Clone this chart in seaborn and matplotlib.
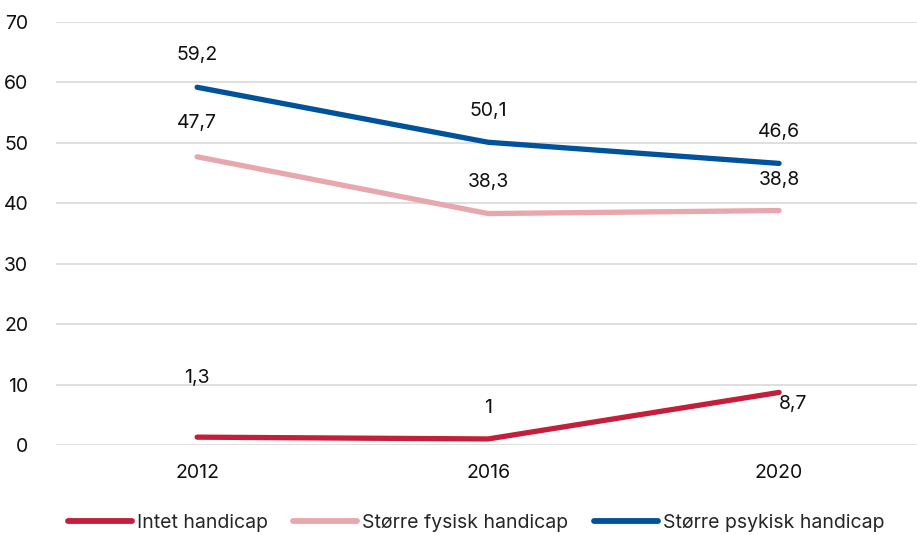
import matplotlib
matplotlib.use("Agg")
import matplotlib.pyplot as plt
import seaborn as sns
import pandas as pd

years = ["2012", "2016", "2020"]
intet = [1.3, 1.0, 8.7]
fysisk = [47.7, 38.3, 38.8]
psykisk = [59.2, 50.1, 46.6]
series_names = ["Intet handicap", "Større fysisk handicap", "Større psykisk handicap"]
colors = ["#C41E3A", "#E8A6AD", "#00529B"]
label_texts = {
    "Intet handicap": ["1,3", "1", "8,7"],
    "Større fysisk handicap": ["47,7", "38,3", "38,8"],
    "Større psykisk handicap": ["59,2", "50,1", "46,6"],
}
label_offsets = {
    "Intet handicap": [(0, 59), (0, 31), (14, -12)],
    "Større fysisk handicap": [(0, 34), (0, 32), (0, 31)],
    "Større psykisk handicap": [(0, 32), (0, 31), (0, 31)],
}

rows = []
for name, vals in zip(series_names, [intet, fysisk, psykisk]):
    for i, (y, v) in enumerate(zip(years, vals)):
        rows.append({"year": y, "idx": i, "value": v, "series": name})
df = pd.DataFrame(rows)

sns.set_theme(style="white")
plt.rcParams["font.family"] = ["Inter", "DejaVu Sans"]

fig = plt.figure(figsize=(9.17, 5.35), dpi=100)
W, H = 917, 535
ax = fig.add_axes([56 / W, (H - 445) / H, (917 - 56) / W, (445 - 22) / H])

sns.lineplot(data=df, x="idx", y="value", hue="series", hue_order=series_names,
             palette=colors, linewidth=3.8, ax=ax, legend=True, sort=False)

for name, vals in zip(series_names, [intet, fysisk, psykisk]):
    for i, v in enumerate(vals):
        dx, dy = label_offsets[name][i]
        ax.annotate(label_texts[name][i], (i, v), xytext=(dx, dy),
                    textcoords="offset pixels", ha="center", va="center",
                    fontsize=14, color="#111111")

ax.set_xlim(-0.485, 2.474)
ax.set_ylim(0, 70)
ax.set_yticks(range(0, 71, 10))
ax.set_xticks(range(len(years)))
ax.set_xticklabels(years)
ax.yaxis.grid(True, color="#d9d9d9", linewidth=1.2)
ax.xaxis.grid(False)
for s in ax.spines.values():
    s.set_visible(False)
ax.tick_params(axis="both", length=0, labelsize=14, colors="#111111")
ax.tick_params(axis="y", pad=20)
ax.tick_params(axis="x", pad=14)
ax.set_xlabel("")
ax.set_ylabel("")

handles, labels = ax.get_legend_handles_labels()
for h in handles:
    h.set_linewidth(4.2)
ax.legend(handles, labels, loc="center", bbox_to_anchor=(476 / W, (H - 523) / H),
          bbox_transform=fig.transFigure, ncol=3, frameon=False, fontsize=14,
          handlelength=3.3, handletextpad=0.25, columnspacing=1.3)

fig.savefig("out.png", dpi=100)
